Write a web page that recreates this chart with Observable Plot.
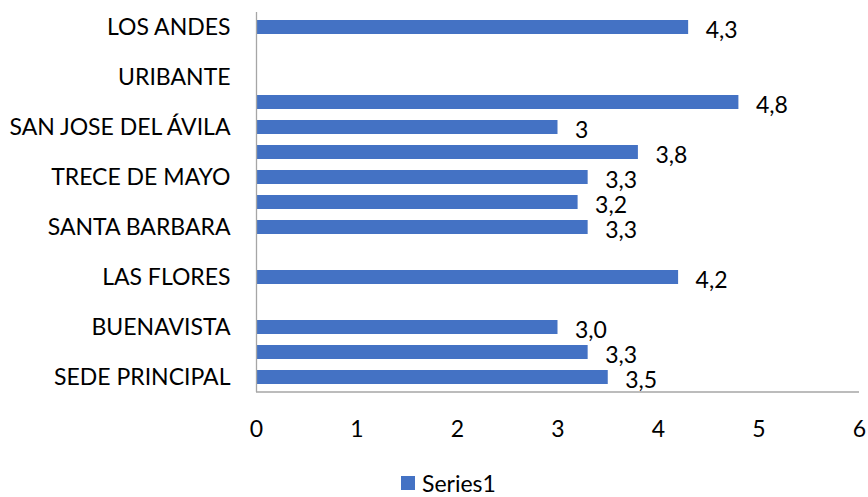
<!DOCTYPE html>
<html>
<head>
<meta charset="utf-8">
<script src="https://cdn.jsdelivr.net/npm/d3@7"></script>
<script src="https://cdn.jsdelivr.net/npm/@observablehq/plot@0.6"></script>
<style>
  html, body { margin: 0; padding: 0; background: #fff; }
  #wrap { position: relative; width: 868px; height: 497px; overflow: hidden; font-family: Lato, sans-serif; }
  #legend { position: absolute; left: 401px; top: 471px; height: 24px; line-height: 24px; display: flex; align-items: center; font-size: 23px; color: #000; }
  #legend .sw { width: 14px; height: 14px; background: #4472C4; margin-right: 7px; }
</style>
</head>
<body>
<div id="wrap"><div id="chart"></div><div id="legend"><span class="sw"></span><span>Series1</span></div></div>
<script>
const categories = ["LOS ANDES", "", "URIBANTE", "", "SAN JOSE DEL ÁVILA", "", "TRECE DE MAYO", "", "SANTA BARBARA", "", "LAS FLORES", "", "BUENAVISTA", "", "SEDE PRINCIPAL"];
const values = [4.3, null, null, 4.8, 3, 3.8, 3.3, 3.2, 3.3, null, 4.2, null, 3.0, 3.3, 3.5];
const valueLabels = ["4,3", "", "", "4,8", "3", "3,8", "3,3", "3,2", "3,3", "", "4,2", "", "3,0", "3,3", "3,5"];
const xTicks = [0, 1, 2, 3, 4, 5, 6];
const seriesName = "Series1";

const rows = categories.map((c, i) => ({i, c, v: values[i], t: valueLabels[i]}));
const withVal = rows.filter(d => d.v != null);

const chart = Plot.plot({
  width: 868,
  height: 450,
  marginLeft: 256,
  marginRight: 9,
  marginTop: 12,
  marginBottom: 58,
  style: {fontFamily: "Lato, sans-serif", fontSize: "23px", color: "#000", background: "#fff", overflow: "visible"},
  x: {domain: [0, 6]},
  y: {domain: d3.range(categories.length), paddingInner: 0.43, paddingOuter: 0.215},
  marks: [
    Plot.barX(withVal, {x: "v", y: "i", fill: "#4472C4"}),
    Plot.text(withVal, {x: "v", y: "i", text: "t", textAnchor: "start", dx: 17, dy: 3, fontSize: 23, fill: "#000"}),
    Plot.axisY({tickSize: 0, tickPadding: 26, label: null, fontSize: 23, tickFormat: i => categories[i]}),
    Plot.axisX({ticks: xTicks, tickSize: 0, tickPadding: 28, label: null, fontSize: 23, tickFormat: d => String(d)}),
    Plot.ruleX([0], {stroke: "#a6a6a6", strokeWidth: 1.3}),
    (index, scales, values, dims) => {
      const yb = dims.height - dims.marginBottom;
      return d3.create("svg:line")
        .attr("x1", scales.x(xTicks[0])).attr("x2", scales.x(xTicks[xTicks.length - 1]))
        .attr("y1", yb).attr("y2", yb)
        .attr("stroke", "#a6a6a6").attr("stroke-width", 1.3).node();
    }
  ]
});
document.getElementById("chart").appendChild(chart);
document.querySelector("#legend span:last-child").textContent = seriesName;
</script>
</body>
</html>
